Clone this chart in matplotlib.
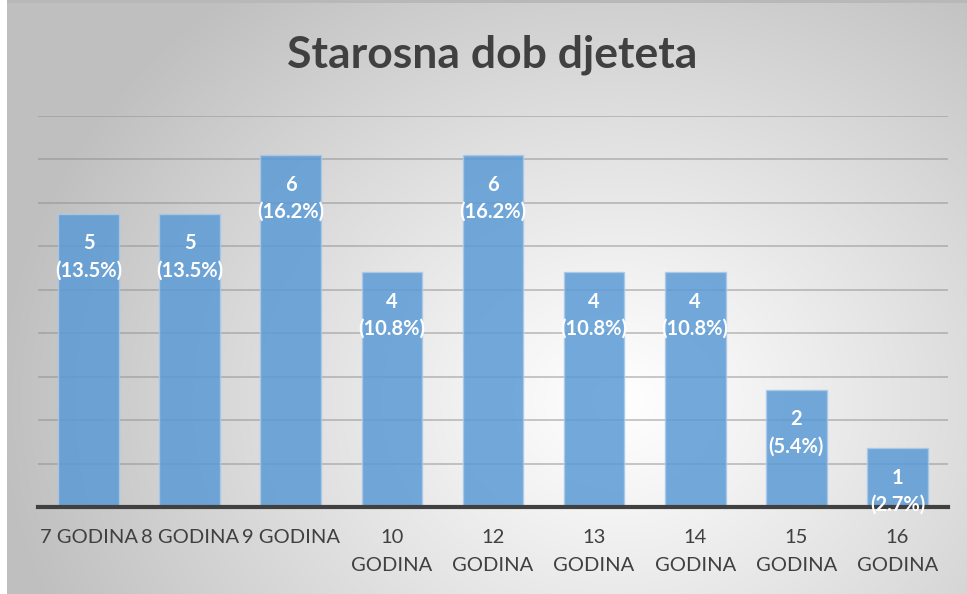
import numpy as np
import matplotlib
matplotlib.use('Agg')
import matplotlib.pyplot as plt

# data
categories = ['7 GODINA', '8 GODINA', '9 GODINA', '10\nGODINA', '12\nGODINA',
              '13\nGODINA', '14\nGODINA', '15\nGODINA', '16\nGODINA']
counts = [5, 5, 6, 4, 6, 4, 4, 2, 1]
percents = [13.5, 13.5, 16.2, 10.8, 16.2, 10.8, 10.8, 5.4, 2.7]

W, H = 967, 594
fig = plt.figure(figsize=(W / 100, H / 100), dpi=100)
fig.patch.set_facecolor('white')

# radial grey background like the office chart style
bg = fig.add_axes([7 / W, 0, 1 - 7 / W, 1 - 3 / H])
yy, xx = np.mgrid[0:H, 0:W - 7]
d = np.sqrt(((xx - 610) / 1.0) ** 2 + ((yy - 400) / 0.85) ** 2)
v = 1.0 - 0.25 * np.clip(d / 620, 0, 1) ** 1.1
bg.imshow(np.dstack([v, v, v]), aspect='auto', extent=[0, 1, 0, 1], interpolation='bilinear')
bg.axis('off')
fig.add_artist(plt.Rectangle((7 / W, 1 - 3 / H), 1, 3 / H, transform=fig.transFigure,
                             color='#b8b8b8', lw=0))

ax = fig.add_axes([38 / W, 87 / H, 910 / W, 391 / H])
ax.patch.set_alpha(0)
x = np.arange(len(categories))
ax.bar(x, percents, width=0.6, color='#5b9bd5', alpha=0.85, edgecolor='#a9c9ea',
       linewidth=1, zorder=3)

ax.set_xlim(-0.5, len(categories) - 0.5)
ax.set_ylim(0, 18)
ax.set_yticks(np.arange(2, 19, 2))
ax.yaxis.grid(True, color='#8c8c8c', alpha=0.55, linewidth=1.2, zorder=0)
ax.tick_params(axis='y', left=False, labelleft=False)
ax.tick_params(axis='x', length=0, pad=16)
ax.set_xticks(x)
ax.set_xticklabels(categories, fontsize=14.5, color='#404040', family='Lato',
                   linespacing=1.8, va='top')
for s in ['top', 'right', 'left']:
    ax.spines[s].set_visible(False)
ax.spines['bottom'].set_color('#404040')
ax.spines['bottom'].set_linewidth(3)
ax.spines['bottom'].set_zorder(4)

for xi, c, p in zip(x, counts, percents):
    ax.annotate(f'{c}\n({p}%)', xy=(xi, p), xytext=(0, -14), textcoords='offset points',
                ha='center', va='top', color='white', fontsize=14.5, fontweight='bold',
                family='Lato', linespacing=1.45, zorder=5)

fig.text(0.509, 1 - 55 / H, 'Starosna dob djeteta', ha='center', va='center',
         fontsize=32, fontweight='bold', color='#404040', family='Lato')

fig.savefig('out.png', dpi=100)
